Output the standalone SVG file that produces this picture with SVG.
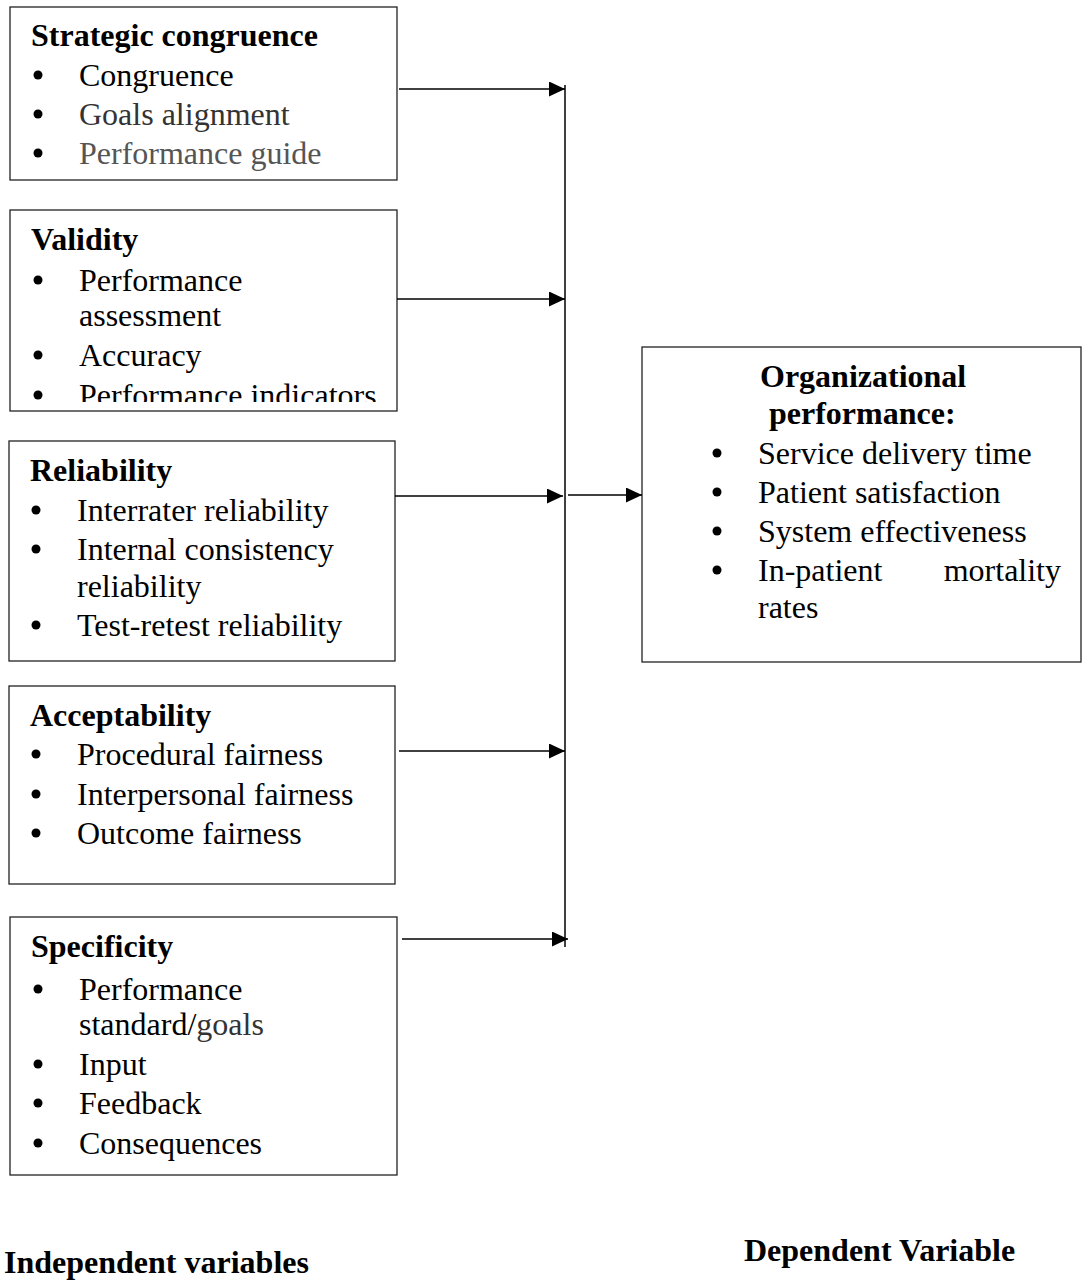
<svg xmlns="http://www.w3.org/2000/svg" width="1089" height="1280" viewBox="0 0 1089 1280">
<style>
.box{fill:#fff;stroke:#222;stroke-width:1.3}
text{font-family:"Liberation Serif","Times New Roman",serif;font-size:32px;fill:#000}
.t{font-weight:bold;font-size:32px}
.g1{fill:#333}
.g2{fill:#555}
.b{fill:#000}
.c{stroke:#000;stroke-width:1.5;fill:none}
</style>
<defs>
<marker id="ah" viewBox="0 0 16 15" refX="16" refY="7.5" markerWidth="16" markerHeight="15" markerUnits="userSpaceOnUse" orient="auto">
<path d="M0,0 L16,7.5 L0,15 Z" fill="#000"/>
</marker>
<clipPath id="clipV"><rect x="10" y="210" width="387" height="192"/></clipPath>
</defs>
<g id="node-strategic">
<rect class="box" x="10" y="7" width="387" height="173"/>
<text class="t" x="31" y="46">Strategic congruence</text>
<circle class="b" cx="38" cy="75" r="4.5"/><text x="79" y="86">Congruence</text>
<circle class="b" cx="38" cy="114" r="4.5"/><text x="79" y="125" class="g1">Goals alignment</text>
<circle class="b" cx="38" cy="153" r="4.5"/><text x="79" y="164" class="g2">Performance guide</text>
</g>
<g id="node-validity">
<rect class="box" x="10" y="210" width="387" height="201"/>
<text class="t" x="31" y="250">Validity</text>
<circle class="b" cx="38" cy="280" r="4.5"/><text x="79" y="291">Performance</text>
<text x="79" y="326">assessment</text>
<circle class="b" cx="38" cy="355" r="4.5"/><text x="79" y="366">Accuracy</text>
<g clip-path="url(#clipV)"><circle class="b" cx="38" cy="395" r="4.5"/><text x="79" y="406">Performance indicators</text></g>
</g>
<g id="node-reliability">
<rect class="box" x="9" y="441" width="386" height="220"/>
<text class="t" x="30" y="481">Reliability</text>
<circle class="b" cx="36" cy="510" r="4.5"/><text x="77" y="521">Interrater reliability</text>
<circle class="b" cx="36" cy="549" r="4.5"/><text x="77" y="560">Internal consistency</text>
<text x="77" y="597">reliability</text>
<circle class="b" cx="36" cy="625" r="4.5"/><text x="77" y="636">Test-retest reliability</text>
</g>
<g id="node-acceptability">
<rect class="box" x="9" y="686" width="386" height="198"/>
<text class="t" x="30" y="726">Acceptability</text>
<circle class="b" cx="36" cy="754" r="4.5"/><text x="77" y="765">Procedural fairness</text>
<circle class="b" cx="36" cy="794" r="4.5"/><text x="77" y="805">Interpersonal fairness</text>
<circle class="b" cx="36" cy="833" r="4.5"/><text x="77" y="844">Outcome fairness</text>
</g>
<g id="node-specificity">
<rect class="box" x="10" y="917" width="387" height="258"/>
<text class="t" x="31" y="957">Specificity</text>
<circle class="b" cx="38" cy="989" r="4.5"/><text x="79" y="1000">Performance</text>
<text x="79" y="1035">standard/<tspan class="g1">goals</tspan></text>
<circle class="b" cx="38" cy="1064" r="4.5"/><text x="79" y="1075">Input</text>
<circle class="b" cx="38" cy="1103" r="4.5"/><text x="79" y="1114">Feedback</text>
<circle class="b" cx="38" cy="1143" r="4.5"/><text x="79" y="1154">Consequences</text>
</g>
<g id="node-organizational">
<rect class="box" x="642" y="347" width="439" height="315"/>
<text class="t" x="760" y="387">Organizational</text>
<text class="t" x="769" y="424">performance:</text>
<circle class="b" cx="717" cy="453" r="4.5"/><text x="758" y="464">Service delivery time</text>
<circle class="b" cx="717" cy="492" r="4.5"/><text x="758" y="503">Patient satisfaction</text>
<circle class="b" cx="717" cy="531" r="4.5"/><text x="758" y="542">System effectiveness</text>
<circle class="b" cx="717" cy="570" r="4.5"/><text x="758" y="581">In-patient</text><text x="1061" y="581" text-anchor="end">mortality</text>
<text x="758" y="618">rates</text>
</g>
<g id="labels">
<text class="t" x="4" y="1273">Independent variables</text>
<text class="t" x="744" y="1261">Dependent Variable</text>
</g>
<g id="connectors">
<line class="c" x1="565" y1="85" x2="565" y2="947"/>
<line class="c" x1="399" y1="89" x2="565" y2="89" marker-end="url(#ah)"/>
<line class="c" x1="397" y1="299" x2="565" y2="299" marker-end="url(#ah)"/>
<line class="c" x1="395" y1="496" x2="563" y2="496" marker-end="url(#ah)"/>
<line class="c" x1="399" y1="751" x2="565" y2="751" marker-end="url(#ah)"/>
<line class="c" x1="402" y1="939" x2="568" y2="939" marker-end="url(#ah)"/>
<line class="c" x1="568" y1="495" x2="642" y2="495" marker-end="url(#ah)"/>
</g>
</svg>
